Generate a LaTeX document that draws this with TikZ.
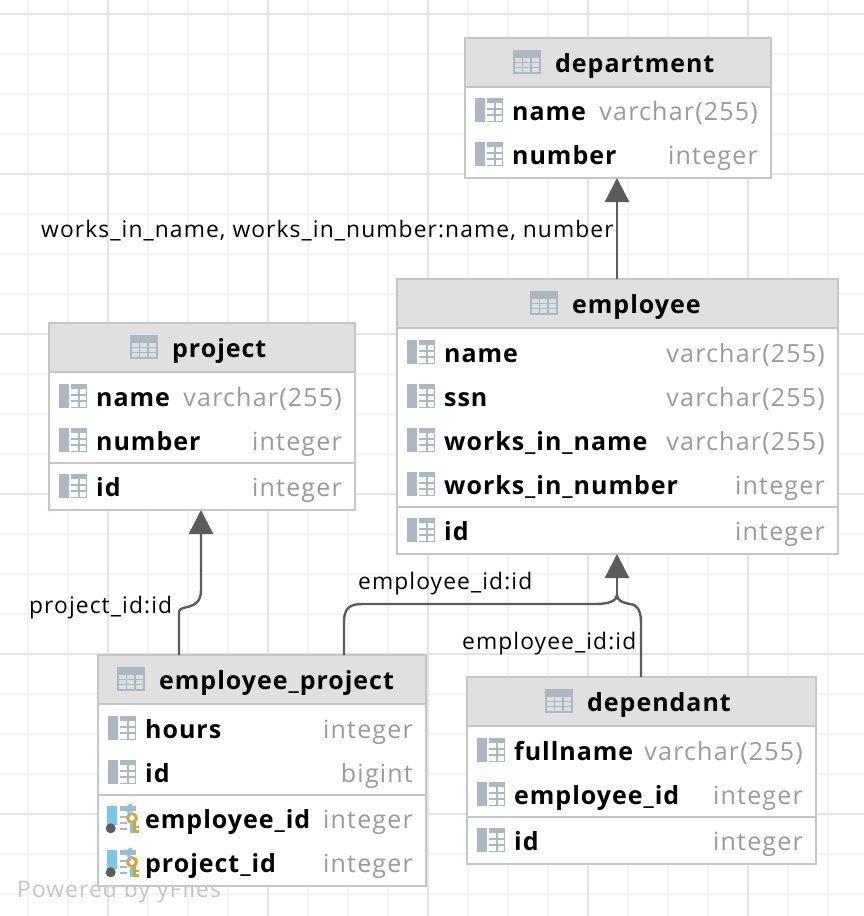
\documentclass[tikz,border=0pt]{standalone}
\usepackage{fontspec}
\setmainfont[LetterSpace=4.8, BoldFeatures={LetterSpace=3.9}]{Open Sans}
\usetikzlibrary{arrows.meta}

\definecolor{gridminor}{HTML}{F4F4F4}
\definecolor{gridmajor}{HTML}{E4E4E4}
\definecolor{tableedge}{HTML}{C6C6C6}
\definecolor{tablehead}{HTML}{E0E0E0}
\definecolor{typegray}{HTML}{9A9A9A}
\definecolor{linkgray}{HTML}{5C5C5C}
\definecolor{iconbar}{HTML}{ABB8C2}
\definecolor{iconblue}{HTML}{7CC6E8}
\definecolor{iconkey}{HTML}{E0A030}

\tikzset{
  tablebox/.style={draw=tableedge, line width=2pt, fill=white, inner sep=0pt, outer sep=0pt, anchor=north west},
  tablehead/.style={fill=tablehead, inner sep=0pt, outer sep=0pt, anchor=north west},
  tablename/.style={font=\fontsize{25}{25}\selectfont\bfseries, anchor=base west, inner sep=0pt},
  colname/.style={font=\fontsize{25}{25}\selectfont\bfseries, anchor=base west, inner sep=0pt},
  coltype/.style={font=\fontsize{25}{25}\selectfont, text=typegray, anchor=base east, inner sep=0pt},
  linklabel/.style={font=\fontsize{22.8}{22.8}\selectfont, anchor=base west, inner sep=0pt},
  link/.style={draw=linkgray, line width=2.4pt},
  linkhead/.style={-{Triangle[length=24pt, width=24pt, color=linkgray]}}
}

% table icon of a header, (#1,#2) is its top left corner
\newcommand\headicon[2]{
  \fill[iconbar] (#1, #2) rectangle +(28, 24);
  \foreach \k in {0,1,2} {
    \fill[white!55!iconbar] (#1+2+8.4*\k, #2+8) rectangle +(7, 3.6);
    \fill[white!55!iconbar] (#1+2+8.4*\k, #2+13) rectangle +(7, 3.6);
    \fill[white!55!iconbar] (#1+2+8.4*\k, #2+18) rectangle +(7, 3.6);
  }
}
% column icon, (#1,#2) is its top left corner
\newcommand\colicon[2]{
  \fill[iconbar] (#1, #2) rectangle +(10, 24);
  \fill[iconbar] (#1+12, #2) rectangle +(16, 5);
  \fill[iconbar] (#1+26.5, #2+5) rectangle +(1.5, 19);
  \draw[iconbar, line width=1.2pt] (#1+12, #2+11) -- +(16, 0) (#1+12, #2+17) -- +(16, 0)
    (#1+12, #2+23.4) -- +(16, 0) (#1+20, #2+5) -- +(0, 19);
}
% key column icon, (#1,#2) is the top left corner
\newcommand\keyicon[2]{
  \fill[iconblue] (#1+0.3, #2) rectangle +(10, 19);
  \fill[iconbar] (#1+13, #2) rectangle +(16, 5);
  \draw[iconbar, line width=1.4pt] (#1+13, #2+11) -- +(7, 0) (#1+13, #2+17) -- +(7, 0)
    (#1+13, #2+23) -- +(7, 0);
  \fill[linkgray] (#1+3.7, #2+22.3) circle (5);
  \draw[iconkey, line width=2.8pt] (#1+25, #2+12) circle (4.4);
  \draw[iconblue, line width=2.8pt] (#1+25, #2+7.6) arc (90:270:4.4);
  \fill[iconblue] (#1+22.8, #2+16) rectangle +(3.2, 11);
  \fill[iconkey] (#1+26, #2+16) rectangle +(3, 11);
  \fill[iconkey] (#1+26, #2+19.5) rectangle +(5.5, 2.8);
  \fill[iconkey] (#1+26, #2+24.2) rectangle +(5.5, 2.8);
}
% one table: name, x, y, width, height, title, title x
\newcommand\tbl[7]{
  \node[tablebox, minimum width=#4pt, minimum height=#5pt] (#1) at (#2, #3) {};
  \node[tablehead, minimum width=#4pt-2pt, minimum height=48pt] (#1head) at (#2+1, #3+1) {};
  \draw[tableedge, line width=2pt] (#2, #3+49) -- +(#4, 0);
  \headicon{#7-42}{#3+12}
  \node[tablename] (#1title) at (#7, #3+34) {#6};
}
% one column: node name, icon x, baseline y, text, type, right x
\newcommand\col[6]{
  \colicon{#2-1}{#3-22}
  \node[colname] (#1) at (#2+36, #3) {#4};
  \node[coltype] (#1type) at (#6, #3) {#5};
}
\newcommand\fkcol[6]{
  \keyicon{#2-2}{#3-22}
  \node[colname] (#1) at (#2+36, #3) {#4};
  \node[coltype] (#1type) at (#6, #3) {#5};
}
% divider above the id rows
\newcommand\divider[3]{
  \draw[tableedge, line width=2pt] (#1, #3) -- +(#2, 0);
}

\begin{document}
\begin{tikzpicture}[x=1pt, y=-1pt]
  \useasboundingbox (0, 0) rectangle (864, 916);
  \fill[white] (0, 0) rectangle (864, 916);

  % grid
  \foreach \i in {28,68,...,868} \draw[gridminor, line width=2pt] (\i, 0) -- (\i, 916);
  \foreach \i in {14,54,...,894} \draw[gridminor, line width=2pt] (0, \i) -- (864, \i);
  \foreach \i in {108,268,428,588,748} \draw[gridmajor, line width=2pt] (\i, 0) -- (\i, 916);
  \foreach \i in {14,174,334,494,654,814} \draw[gridmajor, line width=2pt] (0, \i) -- (864, \i);

  \node[font=\fontsize{22.8}{22.8}\selectfont, text=black!23, anchor=base west, inner sep=0pt] (poweredby) at (17, 897) {Powered by yFiles};

  % links go under the tables
  \coordinate (mergeone) at (617, 595);
  \coordinate (bendone) at (179, 612);
  \coordinate (bendtwo) at (201, 590);

  \tbl{department}{465}{38}{306}{140}{department}{555}
  \col{deptname}{476}{120}{name}{varchar(255)}{758}
  \col{deptnumber}{476}{164}{number}{integer}{758}

  \tbl{employee}{397}{279}{441}{275}{employee}{572}
  \col{empname}{408}{362}{name}{varchar(255)}{825}
  \col{empssn}{408}{406}{ssn}{varchar(255)}{825}
  \col{empworksname}{408}{450}{works\_in\_name}{varchar(255)}{825}
  \col{empworksnumber}{408}{494}{works\_in\_number}{integer}{825}
  \divider{397}{441}{507}
  \col{empid}{408}{540}{id}{integer}{825}

  \tbl{project}{49}{323}{306}{187}{project}{172}
  \col{projname}{60}{406}{name}{varchar(255)}{342}
  \col{projnumber}{60}{450}{number}{integer}{342}
  \divider{49}{306}{463}
  \col{projid}{60}{496}{id}{integer}{342}

  \tbl{empproject}{98}{655}{328}{231}{employee\_project}{159}
  \col{epname}{109}{738}{hours}{integer}{413}
  \col{epid}{109}{782}{id}{bigint}{413}
  \divider{98}{328}{795}
  \fkcol{epemp}{109}{828}{employee\_id}{integer}{413}
  \fkcol{epproj}{109}{872}{project\_id}{integer}{413}

  \tbl{dependant}{467}{677}{349}{187}{dependant}{587}
  \col{depname}{478}{760}{fullname}{varchar(255)}{803}
  \col{depemp}{478}{804}{employee\_id}{integer}{803}
  \divider{467}{349}{817}
  \col{depid}{478}{850}{id}{integer}{803}

  % links
  \draw[link, linkhead] (617, 279 |- employee.north) -- (617, 178 |- department.south);
  \draw[link, linkhead] (179, 655 |- empproject.north) -- (bendone)
    .. controls (179, 604) and (201, 612) .. (bendtwo) -- (201, 510 |- project.south);
  \draw[link] (344, 655 |- empproject.north) -- (344, 622)
    .. controls (344, 608) and (350, 604) .. (362, 604) -- (596, 604)
    .. controls (608, 604) and (617, 601) .. (mergeone);
  \draw[link] (641, 677 |- dependant.north) -- (641, 622)
    .. controls (641, 608) and (635, 604) .. (630, 604)
    .. controls (624, 603) and (617, 601) .. (mergeone);
  \draw[link, linkhead] (mergeone) -- (617, 554 |- employee.south);

  \node[linklabel] (worksinlabel) at (41, 237) {works\_in\_name, works\_in\_number:name, number};
  \node[linklabel] (projlabel) at (29, 613) {project\_id:id};
  \node[linklabel] (emplabel) at (358, 589) {employee\_id:id};
  \node[linklabel] (deplabel) at (462, 649) {employee\_id:id};
\end{tikzpicture}
\end{document}
